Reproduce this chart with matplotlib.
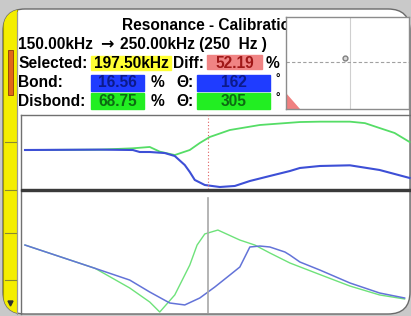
import matplotlib
matplotlib.use("Agg")
import matplotlib.pyplot as plt
from matplotlib.patches import FancyBboxPatch, Rectangle, Polygon

# figure size in pixels
W, H = 411, 316

# sweep settings (kHz)
f_start = 150.0
f_stop = 250.0
f_sel = 197.5

# amplitude traces (upper panel), x = kHz
amp_bond_f = [150.0, 169.5, 178.0, 179.8, 182.4, 186.3, 188.9, 191.5, 192.8, 194.1,
              196.7, 200.6, 204.5, 208.4, 213.6, 218.8, 221.4, 226.6, 234.4, 242.1,
              246.0, 249.9]
amp_bond_v = [52.7, 53.2, 52.7, 50.0, 50.0, 48.6, 44.6, 32.4, 23.0, 12.2,
              5.4, 2.7, 4.1, 10.8, 17.6, 24.3, 28.4, 31.1, 32.0, 25.7,
              20.3, 14.9]
amp_dis_f = [150.0, 169.5, 178.0, 182.4, 185.0, 188.9, 192.8, 195.4, 198.0, 203.2,
             211.0, 221.4, 226.6, 234.4, 238.3, 242.1, 246.0, 249.9]
amp_dis_v = [52.7, 53.2, 55.0, 56.8, 50.5, 45.9, 52.7, 62.2, 70.3, 79.7,
             86.5, 90.5, 91.0, 91.0, 89.0, 82.4, 75.7, 63.5]

# phase traces (lower panel)
ph_bond_f = [150.0, 168.2, 177.2, 182.4, 187.6, 191.5, 195.4, 199.3, 203.2, 205.8,
             207.1, 208.4, 211.0, 213.6, 217.5, 218.8, 221.4, 226.6, 234.4, 242.1,
             248.6]
ph_bond_v = [55.7, 36.6, 27.0, 17.2, 8.2, 6.6, 12.3, 21.3, 31.1, 37.7,
             45.9, 54.1, 54.9, 54.1, 50.0, 47.5, 41.8, 35.2, 24.6, 16.4,
             12.3]
ph_dis_f = [150.0, 168.2, 177.2, 182.4, 185.0, 188.9, 192.8, 194.7, 196.7, 200.1,
            205.8, 209.7, 213.6, 218.8, 226.6, 234.4, 242.1, 248.6]
ph_dis_v = [55.7, 36.6, 20.5, 9.0, 0.8, 14.8, 39.3, 55.7, 64.8, 68.0,
            59.8, 55.7, 49.2, 41.0, 31.5, 22.1, 14.8, 11.5]

# impedance plane (inset)
imp_x = [-0.04]
imp_y = [0.11]
gate_x = [-1.0, -1.0, -0.77]
gate_y = [-0.65, -1.0, -1.0]

# readouts
title = "Resonance - Calibration"
sweep_from = "150.00kHz"
sweep_to = "250.00kHz (250  Hz )"
selected = "197.50kHz"
diff = "52.19"
bond_amp, bond_ph = "16.56", "162"
dis_amp, dis_ph = "68.75", "305"

FONT = ['Liberation Sans', 'DejaVu Sans']
BLUE = '#3d4fd6'
GREEN = '#55dd66'


def px_axes(x0, y0, x1, y1):
    return fig.add_axes([x0 / W, 1 - y1 / H, (x1 - x0) / W, (y1 - y0) / H])


fig = plt.figure(figsize=(W / 100, H / 100), dpi=100, facecolor='#c9c9c9')

# background / screen decoration in pixel coords
bg = fig.add_axes([0, 0, 1, 1])
bg.set_xlim(0, W)
bg.set_ylim(H, 0)
bg.axis('off')

frame = FancyBboxPatch((3, 9), 407, 305, boxstyle="round,pad=0,rounding_size=22",
                       facecolor='white', edgecolor='#6a6a6a', lw=1.0, zorder=0)
bg.add_patch(frame)

strip = Rectangle((3, 9), 14, 306, facecolor='#f4ee00', edgecolor='#a09a00', lw=0.8, zorder=1)
bg.add_patch(strip)
strip.set_clip_path(frame)
bg.add_patch(Rectangle((8, 50), 5, 45, facecolor='#e2661a', edgecolor='#8a3a0a', lw=0.6, zorder=2))
for yy in [142, 190, 233, 280]:
    bg.plot([5, 16], [yy, yy], color='#8a8a30', lw=0.8, zorder=2)
bg.add_patch(Polygon([[8, 301], [13, 301], [10.5, 306]], color='#303030', zorder=2))
bg.plot([17, 17], [12, 314], color='#9a9a9a', lw=0.8, zorder=2)

# panel borders
bg.plot([21, 411], [115, 115], color='#707070', lw=1.0, zorder=2)
bg.plot([21, 21], [115, 314], color='#707070', lw=1.0, zorder=2)
bg.add_patch(Rectangle((21, 188.5), 390, 2.6, color='#3a3a3a', zorder=2))

# readout boxes
bg.add_patch(Rectangle((91, 56), 80, 14, color='#ffff33', zorder=1))
bg.add_patch(Rectangle((207, 55), 55, 14, color='#f08484', zorder=1))
bg.add_patch(Rectangle((91, 75), 53, 16, color='#1f3cff', zorder=1))
bg.add_patch(Rectangle((197, 75), 73, 16, color='#1f3cff', zorder=1))
bg.add_patch(Rectangle((91, 93), 53, 16, color='#22ee22', zorder=1))
bg.add_patch(Rectangle((197, 93), 73, 16, color='#22ee22', zorder=1))

tk = dict(family=FONT, weight='bold', size=11.2, va='baseline', zorder=3)
bg.text(122, 30, title, **tk)
bg.text(18, 49, sweep_from, **tk)
bg.text(100, 49, "\u2192", family=['DejaVu Sans'], weight='bold', size=11.5,
        va='baseline', zorder=3)
bg.text(120, 49, sweep_to, **tk)
bg.text(18, 68, "Selected:", **tk)
bg.text(131, 68, selected, ha='center', **tk)
bg.text(173, 68, "Diff:", **tk)
bg.text(234.5, 68, diff, ha='center', color='#a01818', **tk)
bg.text(266, 68, "%", **tk)
bg.text(18, 87, "Bond:", **tk)
bg.text(117.5, 87, bond_amp, ha='center', color='#0c1a8a', **tk)
bg.text(151, 87, "%", **tk)
bg.text(176, 87, "\u0398:", **tk)
bg.text(233.5, 87, bond_ph, ha='center', color='#0c1a8a', **tk)
bg.text(18, 106, "Disbond:", **tk)
bg.text(117.5, 106, dis_amp, ha='center', color='#0d6a12', **tk)
bg.text(151, 106, "%", **tk)
bg.text(176, 106, "\u0398:", **tk)
bg.text(233.5, 106, dis_ph, ha='center', color='#0d6a12', **tk)
bg.text(275, 82, "\u00b0", family=FONT, size=8, weight='bold', zorder=3)
bg.text(275, 101, "\u00b0", family=FONT, size=8, weight='bold', zorder=3)

# x range of the panels: sweep runs from px 25 to px 410
px_per_khz = (410 - 25) / (f_stop - f_start)
xlim = (f_start - (25 - 21) / px_per_khz, f_stop + (411 - 410) / px_per_khz)

# upper panel: amplitude
ax1 = px_axes(21, 115, 411, 189)
ax1.patch.set_alpha(0)
ax1.plot(amp_dis_f, amp_dis_v, color=GREEN, lw=1.3)
ax1.plot(amp_bond_f, amp_bond_v, color=BLUE, lw=1.5)
ax1.axvline(f_sel, color='#e06060', lw=0.8, ls=(0, (1, 2)))
ax1.set_xlim(*xlim)
ax1.set_ylim(0, 100)
ax1.axis('off')

# lower panel: phase
ax2 = px_axes(21, 191, 411, 313)
ax2.patch.set_alpha(0)
ax2.plot(ph_dis_f, ph_dis_v, color='#6ee27a', lw=1.0)
ax2.plot(ph_bond_f, ph_bond_v, color='#6373d8', lw=1.1)
ax2.axvline(f_sel, ymin=0, ymax=0.94, color='#a8a8a8', lw=1.2)
ax2.set_xlim(*xlim)
ax2.set_ylim(0, 100)
ax2.axis('off')

# inset impedance plane
ax3 = px_axes(286, 17, 409, 109)
ax3.set_xlim(-1, 1)
ax3.set_ylim(-1, 1)
ax3.set_xticks([])
ax3.set_yticks([])
for s in ax3.spines.values():
    s.set_color('#8c8c8c')
    s.set_linewidth(1.0)
ax3.axvline(0.04, color='#cfcfcf', lw=0.8)
ax3.axhline(0.02, color='#a0a0a0', lw=0.8, ls=(0, (3, 2)))
ax3.fill(gate_x, gate_y, color='#f08080', lw=0)
ax3.plot(imp_x, imp_y, 'o', ms=3.5, mfc='#d8d8d8', mec='#808080', mew=1.0)

fig.savefig('out.png', dpi=100, facecolor=fig.get_facecolor())
